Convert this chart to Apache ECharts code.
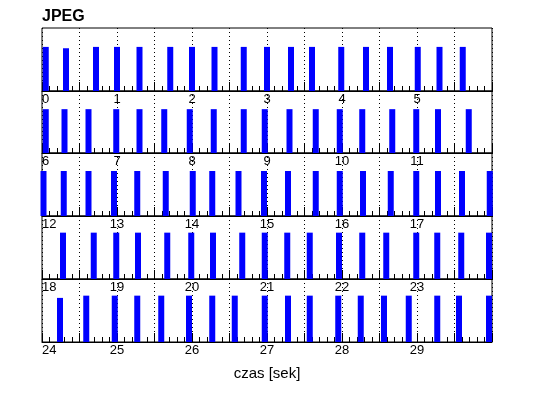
<!DOCTYPE html>
<html>
<head>
<meta charset="utf-8">
<script src="https://cdn.jsdelivr.net/npm/echarts@6/dist/echarts.min.js"></script>
<style>
html,body{margin:0;padding:0;background:#fff;}
#chart{width:538px;height:398px;}
</style>
</head>
<body>
<div id="chart"></div>
<script>
// Row start times (seconds) and tick/label settings
const rowStarts = [0, 6, 12, 18, 24];
const rowSpan = 6;

// Frame times (seconds) for each row
const row1Times = [0.05, 0.32, 0.72, 1.00, 1.30, 1.71, 2.00, 2.30, 2.69, 3.00, 3.32, 3.60, 3.99, 4.32, 4.64, 5.01, 5.30, 5.61];
const row2Times = [6.05, 6.30, 6.62, 6.99, 7.30, 7.63, 7.97, 8.29, 8.69, 8.97, 9.30, 9.65, 9.97, 10.27, 10.67, 10.99, 11.28, 11.69];
const row3Times = [12.02, 12.29, 12.62, 12.96, 13.27, 13.65, 14.01, 14.27, 14.62, 14.96, 15.28, 15.65, 15.97, 16.28, 16.65, 16.99, 17.28, 17.60, 17.97];
const row4Times = [18.28, 18.69, 18.99, 19.28, 19.67, 19.99, 20.28, 20.67, 20.97, 21.27, 21.57, 21.96, 22.27, 22.59, 22.99, 23.27, 23.59, 23.96];
const row5Times = [24.24, 24.59, 24.97, 25.27, 25.59, 25.96, 26.27, 26.57, 26.97, 27.28, 27.57, 27.95, 28.25, 28.56, 28.89, 29.27, 29.56, 29.96];

// Bar heights for each row
const row1Heights = [0.98, 0.95, 0.98, 0.98, 0.98, 0.98, 0.98, 0.98, 0.98, 0.98, 0.98, 0.98, 0.98, 0.98, 0.98, 0.98, 0.98, 0.98];
const row2Heights = [0.99, 0.99, 0.99, 0.99, 0.99, 0.99, 0.99, 0.99, 0.99, 0.99, 0.99, 0.99, 0.99, 0.99, 0.99, 0.99, 0.99, 0.99];
const row3Heights = [1.0, 1.0, 1.0, 1.0, 1.0, 1.0, 1.0, 1.0, 1.0, 1.0, 1.0, 1.0, 1.0, 1.0, 1.0, 1.0, 1.0, 1.0, 1.0];
const row4Heights = [1.03, 1.03, 1.03, 1.03, 1.03, 1.03, 1.03, 1.03, 1.03, 1.03, 1.03, 1.03, 1.03, 1.03, 1.03, 1.03, 1.03, 1.03];
const row5Heights = [0.98, 1.03, 1.03, 1.03, 1.03, 1.03, 1.03, 1.03, 1.03, 1.03, 1.03, 1.03, 1.03, 1.03, 1.03, 1.03, 1.03, 1.03];

const rowTimes = [row1Times, row2Times, row3Times, row4Times, row5Times];
const rowHeights = [row1Heights, row2Heights, row3Heights, row4Heights, row5Heights];

const titleText = 'JPEG';
const xAxisTitle = 'czas [sek]';

// layout
const gridTops = [28, 91, 153, 216, 279];
const gridHeights = [63, 62, 63, 63, 63];
const FONT = 'Arial, "Liberation Sans", sans-serif';

const grids = [], xAxes = [], yAxes = [], series = [];
rowStarts.forEach((s, i) => {
  grids.push({
    left: 42, width: 450, top: gridTops[i], height: gridHeights[i],
    show: true, borderColor: '#000', borderWidth: 1, backgroundColor: 'transparent'
  });
  const last = i === rowStarts.length - 1;
  xAxes.push({
    type: 'value', gridIndex: i, min: s, max: s + rowSpan, interval: 0.5,
    name: last ? xAxisTitle : '',
    nameLocation: 'middle', nameGap: 24,
    nameTextStyle: { fontSize: 15, color: '#000', fontFamily: FONT },
    axisLine: { show: true, onZero: false, lineStyle: { color: '#000', width: 1 } },
    axisTick: { show: true, inside: true, length: 9, lineStyle: { color: '#000', width: 1 } },
    minorTick: { show: true, splitNumber: 5, length: 5, lineStyle: { color: '#000', width: 1 } },
    splitLine: { show: true, lineStyle: { color: '#000', width: 1, type: [1, 3] } },
    axisLabel: {
      show: true, margin: 2, color: '#000', fontSize: 13, fontFamily: FONT,
      showMaxLabel: false, showMinLabel: true, alignMinLabel: 'left',
      formatter: v => (Math.abs(v - Math.round(v)) < 1e-9 ? String(Math.round(v)) : '')
    }
  });
  yAxes.push({ type: 'value', gridIndex: i, min: 0, max: 1.4, show: false });
  series.push({
    type: 'bar', xAxisIndex: i, yAxisIndex: i, barWidth: 6,
    itemStyle: { color: '#0000ff' },
    silent: true, animation: false,
    data: rowTimes[i].map((t, j) => [t, rowHeights[i][j]])
  });
});

const chart = echarts.init(document.getElementById('chart'), null, { renderer: 'canvas' });
chart.setOption({
  backgroundColor: '#fff',
  animation: false,
  title: {
    text: titleText, left: 42, top: 9, padding: 0,
    textStyle: { fontSize: 16, fontWeight: 'bold', color: '#000', fontFamily: FONT }
  },
  grid: grids, xAxis: xAxes, yAxis: yAxes, series: series
});
</script>
</body>
</html>
